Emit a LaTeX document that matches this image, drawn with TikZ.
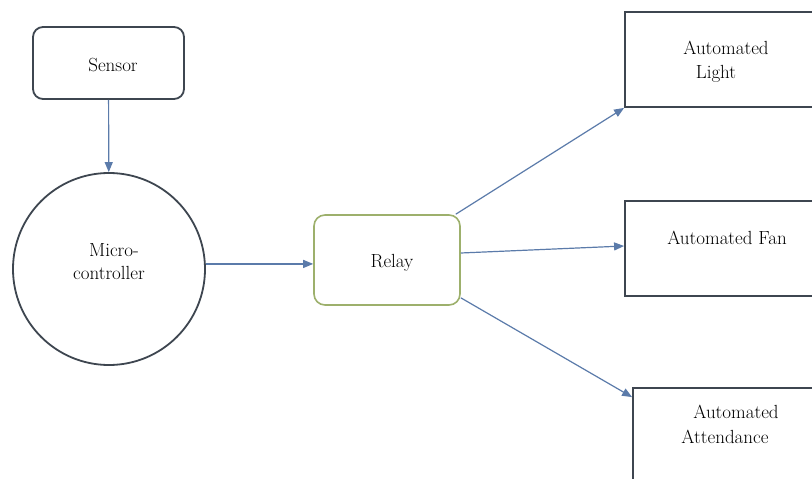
\documentclass[tikz,border=0pt]{standalone}
\usetikzlibrary{arrows.meta}
\definecolor{boxline}{HTML}{3E4650}
\definecolor{relayline}{HTML}{9DB06C}
\definecolor{arrowc}{HTML}{5B7BAA}
\begin{document}
\begin{tikzpicture}[x=1pt,y=-1pt,
  rbox/.style={draw=boxline, line width=1.8pt, rounded corners=10pt, inner sep=0pt},
  sbox/.style={draw=boxline, line width=1.8pt, inner sep=0pt},
  circ/.style={draw=boxline, line width=1.8pt, circle, inner sep=0pt, minimum size=192pt},
  relaybox/.style={draw=relayline, line width=1.6pt, rounded corners=11pt, inner sep=0pt},
  lbl/.style={font=\fontsize{19}{23}\selectfont, anchor=base, inner sep=0pt, text=black},
  arr/.style={draw=arrowc, line width=1.2pt, -{Triangle[length=10pt,width=8pt]}}]
\useasboundingbox (0,0) rectangle (812,479);
\clip (0,0) rectangle (812,479);
\fill[white] (0,0) rectangle (812,479);
% boxes
\node[rbox, minimum width=151pt, minimum height=72pt] (sensor) at (108.5,63) {};
\node[circ] (mc) at (109,269) {};
\node[relaybox, minimum width=146pt, minimum height=90pt] (relay) at (387,260) {};
\node[sbox, minimum width=215pt, minimum height=95pt] (light) at (732.5,59.5) {};
\node[sbox, minimum width=215pt, minimum height=95pt] (fan) at (732.5,248.5) {};
\node[sbox, minimum width=207pt, minimum height=112pt] (att) at (736.5,444) {};
% labels
\node[lbl] (tsensor) at (113,71) {Sensor};
\node[lbl] (tmc1) at (114,256) {Micro-};
\node[lbl] (tmc2) at (109,279) {controller};
\node[lbl] (trelay) at (392,267) {Relay};
\node[lbl] (tl1) at (726,54) {Automated};
\node[lbl] (tl2) at (716,78) {Light};
\node[lbl] (tfan) at (727,244) {Automated Fan};
\node[lbl] (ta1) at (736,418) {Automated};
\node[lbl] (ta2) at (725,443) {Attendance};
% connectors
\draw[arr] (sensor) -- (mc);
\draw[arr] (mc.3) -- (mc.3 -| relay.west);
\draw[arr] ([xshift=-5pt]relay.north east) -- (light.south west);
\draw[arr] ([yshift=7pt]relay.east) -- ([yshift=2.5pt]fan.west);
\draw[arr] ([yshift=8pt]relay.south east) -- ([yshift=-10pt]att.north west);
\end{tikzpicture}
\end{document}
